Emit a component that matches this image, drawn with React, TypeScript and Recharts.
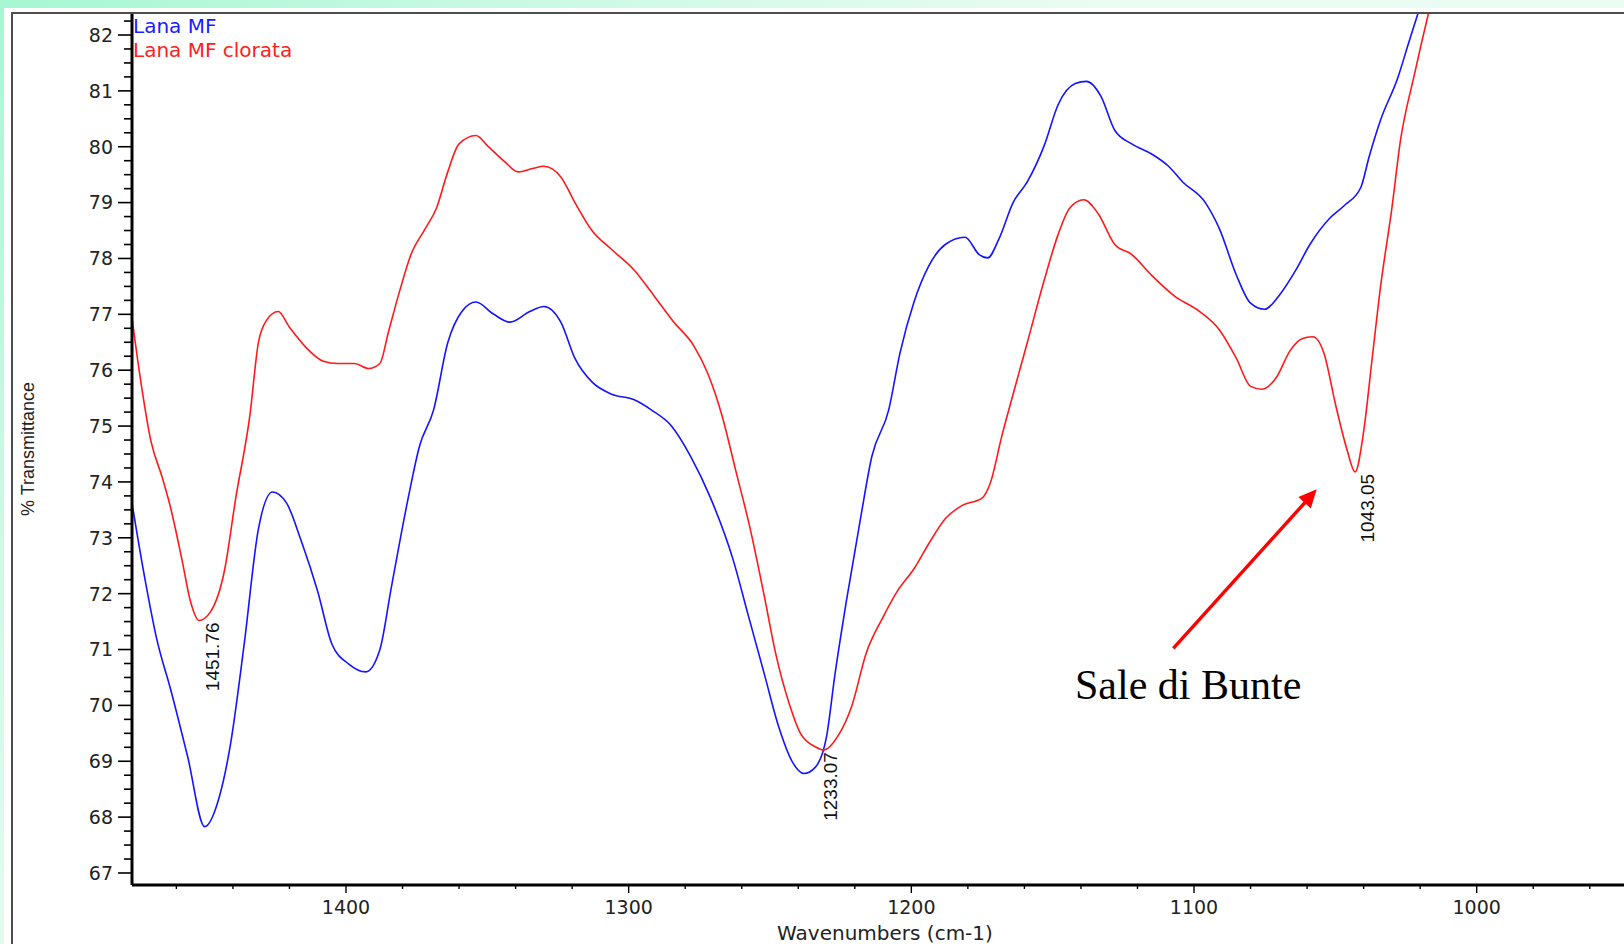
import React from "react";
import { LineChart, Line, XAxis, YAxis, ReferenceDot } from "recharts";

// Lana MF (blue)
const blueWn = [1476, 1471, 1467, 1462, 1456, 1450, 1445, 1441, 1436, 1431, 1426, 1421, 1416, 1410, 1405, 1399, 1393, 1388, 1384, 1378, 1374, 1369, 1364, 1359, 1354, 1348, 1342, 1335, 1330, 1324, 1319, 1313, 1306, 1298, 1292, 1285, 1278, 1271, 1263, 1258, 1252, 1247, 1242, 1238, 1234, 1230, 1227, 1223, 1218, 1214, 1208, 1204, 1199, 1194, 1188, 1181, 1176, 1173, 1169, 1164, 1159, 1153, 1148, 1142, 1138, 1133, 1128, 1122, 1115, 1109, 1104, 1096, 1091, 1085, 1080, 1075, 1070, 1064, 1059, 1052, 1047, 1041, 1038, 1034, 1028, 1024, 1021, 1014];
const blueT = [73.71, 72.23, 71.2, 70.28, 69.08, 67.83, 68.33, 69.26, 71.1, 73.15, 73.82, 73.62, 72.97, 72.04, 71.1, 70.74, 70.6, 71.0, 72.1, 73.71, 74.64, 75.29, 76.49, 77.05, 77.22, 77.01, 76.86, 77.05, 77.14, 76.86, 76.21, 75.79, 75.57, 75.47, 75.29, 75.01, 74.45, 73.71, 72.6, 71.67, 70.56, 69.63, 68.98, 68.78, 68.89, 69.44, 70.56, 71.86, 73.34, 74.45, 75.29, 76.31, 77.23, 77.85, 78.25, 78.38, 78.07, 78.01, 78.35, 79.0, 79.37, 80.02, 80.76, 81.13, 81.17, 80.91, 80.29, 80.05, 79.87, 79.65, 79.37, 79.0, 78.53, 77.7, 77.2, 77.09, 77.33, 77.79, 78.25, 78.72, 78.94, 79.27, 79.83, 80.48, 81.22, 81.87, 82.35, 83.4];

// Lana MF clorata (red)
const redWn = [1476, 1473, 1469, 1465, 1462, 1458, 1455, 1452, 1448, 1443, 1439, 1434, 1431, 1428, 1424, 1420, 1414, 1408, 1403, 1397, 1392, 1388, 1385, 1381, 1377, 1372, 1368, 1364, 1360, 1354, 1350, 1344, 1339, 1334, 1330, 1324, 1319, 1313, 1306, 1298, 1291, 1284, 1277, 1272, 1267, 1262, 1257, 1252, 1248, 1243, 1239, 1234, 1231, 1226, 1221, 1216, 1210, 1205, 1199, 1194, 1188, 1182, 1175, 1172, 1168, 1164, 1159, 1153, 1148, 1144, 1139, 1134, 1128, 1122, 1115, 1107, 1098, 1091, 1085, 1080, 1076, 1071, 1066, 1062, 1058, 1054, 1050, 1046, 1043, 1040, 1037, 1034, 1030, 1027, 1022, 1017, 1011];
const redT = [77.05, 75.94, 74.73, 74.08, 73.53, 72.6, 71.86, 71.52, 71.67, 72.41, 73.71, 75.19, 76.49, 76.9, 77.05, 76.77, 76.4, 76.16, 76.12, 76.12, 76.03, 76.12, 76.68, 77.42, 78.07, 78.53, 78.9, 79.55, 80.05, 80.2, 80.02, 79.74, 79.55, 79.61, 79.65, 79.46, 79.0, 78.5, 78.16, 77.79, 77.33, 76.86, 76.44, 75.94, 75.19, 74.18, 73.16, 71.95, 70.93, 70.0, 69.48, 69.26, 69.2, 69.45, 70.0, 70.93, 71.58, 72.04, 72.45, 72.88, 73.34, 73.58, 73.71, 73.99, 74.82, 75.57, 76.49, 77.61, 78.44, 78.9, 79.05, 78.81, 78.25, 78.07, 77.7, 77.33, 77.05, 76.72, 76.21, 75.71, 75.66, 75.86, 76.35, 76.56, 76.6, 76.3, 75.4, 74.6, 74.18, 74.9, 76.2, 77.5, 78.9, 80.1, 81.3, 82.4, 83.6];

// labelled minima
const peakWn = [1451.76, 1233.07, 1043.05];
const peakT = [71.52, 69.2, 74.18];

const xTicks: number[] = [];
for (let v = 940; v <= 1460; v += 20) xTicks.push(v);
const yTicks: number[] = [];
for (let v = 67; v <= 82.25; v += 0.25) yTicks.push(v);

const blueData = blueWn.map((wn, i) => ({ wn, t: blueT[i] }));
const redData = redWn.map((wn, i) => ({ wn, t: redT[i] }));

const wideFont = "'DejaVu Sans', sans-serif";
const arialFont = "'Liberation Sans', Arial, sans-serif";

const YTick = (props: any) => {
  const { x, y, payload } = props;
  const v = payload.value;
  const major = Math.abs(v - Math.round(v)) < 1e-6;
  return (
    <g>
      <line x1={x - (major ? 14 : 8)} x2={x} y1={y} y2={y} stroke="#000" strokeWidth={1.6} />
      {major && (
        <text x={x - 19} y={y} dy="0.36em" textAnchor="end" fontSize={19} fontFamily={wideFont} fill="#222">
          {Math.round(v)}
        </text>
      )}
    </g>
  );
};

const XTick = (props: any) => {
  const { x, y, payload } = props;
  const v = payload.value;
  const major = v % 100 === 0;
  return (
    <g>
      <line x1={x} x2={x} y1={y} y2={y + (major ? 8 : 4)} stroke="#000" strokeWidth={1.4} />
      {major && (
        <text x={x} y={y + 22} dy="0.36em" textAnchor="middle" fontSize={19} fontFamily={wideFont} fill="#222">
          {v}
        </text>
      )}
    </g>
  );
};

const PeakLabel = (label: string) => (props: any) => {
  const { cx, cy } = props;
  return (
    <text
      transform={`translate(${cx + 13},${cy + 2}) rotate(-90)`}
      textAnchor="end"
      dominantBaseline="central"
      fontSize={19}
      fontFamily={arialFont}
      fill="#111"
    >
      {label}
    </text>
  );
};

export default function App() {
  return (
    <div
      style={{
        position: "fixed",
        left: 0,
        top: 0,
        width: 1624,
        height: 944,
        overflow: "hidden",
        background: "radial-gradient(circle at 0 0, #a6f7d3 0px, #c9f9e3 500px, #eafcf3 1100px)",
      }}
    >
      <div style={{ position: "absolute", left: 4, top: 8, width: 1700, height: 1000, background: "#fff" }} />
      <div
        style={{
          position: "absolute",
          left: 11,
          top: 12,
          width: 1700,
          height: 1000,
          border: "2px solid #4d4d4d",
          background: "#fff",
        }}
      />
      <div style={{ position: "absolute", left: 0, top: 0 }}>
        <LineChart width={1700} height={944} margin={{ top: 14, right: 0, bottom: 0, left: 0 }}>
          <XAxis
            dataKey="wn"
            type="number"
            domain={[921, 1475.7]}
            reversed
            allowDataOverflow
            ticks={xTicks}
            interval={0}
            height={59}
            tickSize={0}
            tickMargin={0}
            tickLine={false}
            tick={<XTick />}
            axisLine={{ stroke: "#000", strokeWidth: 3 }}
          />
          <YAxis
            type="number"
            domain={[66.785, 82.376]}
            allowDataOverflow
            ticks={yTicks}
            interval={0}
            width={132}
            tickSize={0}
            tickMargin={0}
            tickLine={false}
            tick={<YTick />}
            axisLine={{ stroke: "#000", strokeWidth: 3 }}
          />
          <Line
            data={blueData}
            dataKey="t"
            type="monotone"
            stroke="#1414ff"
            strokeWidth={1.6}
            dot={false}
            activeDot={false}
            isAnimationActive={false}
          />
          <Line
            data={redData}
            dataKey="t"
            type="monotone"
            stroke="#ff1a1a"
            strokeWidth={1.6}
            dot={false}
            activeDot={false}
            isAnimationActive={false}
          />
          {peakWn.map((wn, i) => (
            <ReferenceDot key={wn} x={wn} y={peakT[i]} r={0} shape={PeakLabel(wn.toFixed(2))} />
          ))}
        </LineChart>
      </div>
      <svg
        width={1624}
        height={944}
        style={{ position: "absolute", left: 0, top: 0, pointerEvents: "none" }}
      >
        <text x={133} y={33} fontSize={20} fontFamily={wideFont} fill="#1a1aff">
          Lana MF
        </text>
        <text x={133} y={57} fontSize={20} fontFamily={wideFont} fill="#ff2020">
          Lana MF clorata
        </text>
        <text
          transform="translate(28,449) rotate(-90)"
          textAnchor="middle"
          dominantBaseline="central"
          fontSize={18}
          fontFamily={arialFont}
          fill="#222"
        >
          % Transmittance
        </text>
        <text x={885} y={933} dy="0.36em" textAnchor="middle" fontSize={20} fontFamily={wideFont} fill="#222">
          Wavenumbers (cm-1)
        </text>
        <line x1={1173.3} y1={648.3} x2={1305} y2={502.5} stroke="#ff0000" strokeWidth={3.4} />
        <polygon points="1316.7,489.3 1310.8,508.4 1298.4,497.0" fill="#ff0000" />
        <text x={1075} y={699} fontSize={42} fontFamily="'Liberation Serif', 'Times New Roman', serif" fill="#000">
          Sale di Bunte
        </text>
      </svg>
    </div>
  );
}
